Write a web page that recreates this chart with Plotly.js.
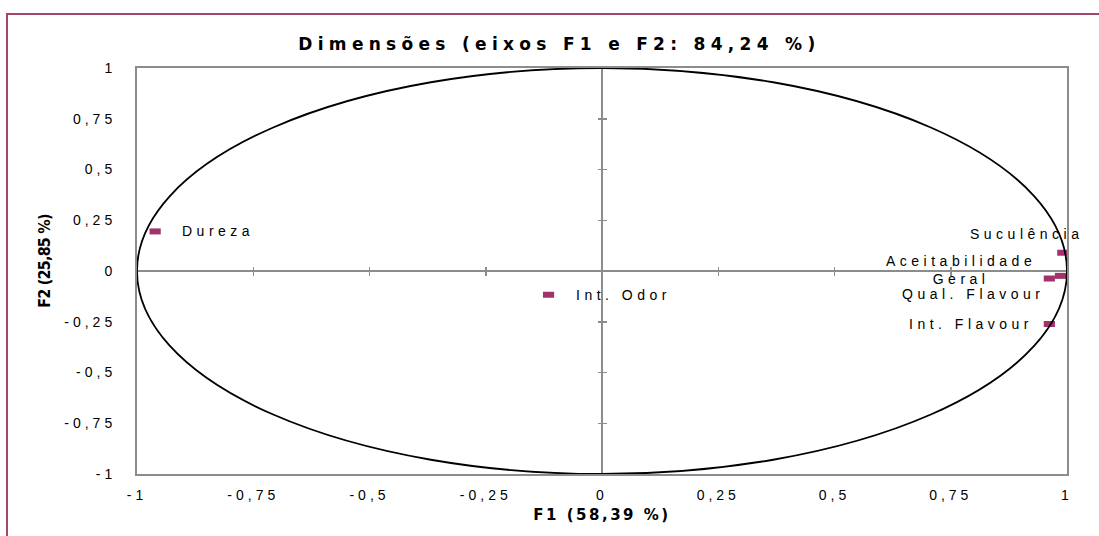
<!DOCTYPE html>
<html>
<head>
<meta charset="utf-8">
<script src="https://cdn.plot.ly/plotly-3.0.1.min.js"></script>
<style>
  html, body { margin: 0; padding: 0; background: #ffffff; }
  #chart { width: 1099px; height: 536px; }
  /* wide, airy lettering of the original worksheet chart */
  .gtitle { letter-spacing: 5.3px; }
  .g-xtitle text { letter-spacing: 2.5px; }
  .xtick text, .ytick text { letter-spacing: 4px; }
  .annotation-text { letter-spacing: 4.5px; }
  .annotation.ytitle .annotation-text { letter-spacing: -0.8px; }
</style>
</head>
<body>
<div id="chart"></div>
<script>
// Variable loadings on the first two factors (correlation circle)
const variables = ['Dureza', 'Int. Odor', 'Suculência', 'Aceitabilidade<br>Geral', 'Qual. Flavour', 'Int. Flavour'];
const f1 = [-0.961, -0.115, 0.991, 0.986, 0.962, 0.962];
const f2 = [0.195, -0.117, 0.090, -0.024, -0.037, -0.261];

// Axis ticks
const tickVals = [-1, -0.75, -0.5, -0.25, 0, 0.25, 0.5, 0.75, 1];
const tickText = ['-1', '-0,75', '-0,5', '-0,25', '0', '0,25', '0,5', '0,75', '1'];

// Label placement relative to each point (pixels)
const labelAnchor = ['left', 'left', 'right', 'center', 'center', 'right'];
const labelDx = [25, 25, 23, -99, -76, -14];
const labelDy = [0, 0, 19, 6, -15, 0];

const markColor = '#a1326c';
const axisGray = '#8c8c8c';
const labelFont = 'Liberation Sans, Arial, sans-serif';

const points = {
  type: 'scatter', mode: 'markers',
  x: f1, y: f2, text: variables,
  cliponaxis: false,
  hoverinfo: 'text',
  marker: { symbol: 'line-ew', size: 8, color: markColor,
            line: { color: markColor, width: 6 } },
  showlegend: false
};

// empty traces that bring the centre tick axes to life
const blank = (xa, ya) => ({ type: 'scatter', x: [], y: [], xaxis: xa, yaxis: ya,
                             showlegend: false, hoverinfo: 'skip' });

const centerAxis = (ticks, over) => ({
  overlaying: over, anchor: 'free', position: 0.5,
  range: [-1, 1], tickvals: tickVals, showticklabels: false,
  ticks: ticks, ticklen: 4, tickwidth: 1.5, tickcolor: axisGray,
  showgrid: false, zeroline: false, showline: false, fixedrange: true
});

const annotations = variables.map((v, i) => ({
  x: f1[i], y: f2[i], xref: 'x', yref: 'y',
  text: v, showarrow: false,
  xanchor: labelAnchor[i], yanchor: 'middle',
  xshift: labelDx[i], yshift: labelDy[i],
  font: { family: labelFont, size: 14, color: '#000000' }
}));

// vertical axis title, set a little above the axis centre
annotations.push({
  text: '<b>F2 (25,85 %)</b>', showarrow: false, textangle: -90,
  xref: 'paper', yref: 'paper', x: -93 / 930, y: 212.5 / 406,
  xanchor: 'center', yanchor: 'middle', name: 'ytitle',
  font: { family: 'DejaVu Sans Condensed, DejaVu Sans, sans-serif', size: 16, color: '#000000' }
});

const layout = {
  width: 1099, height: 536,
  margin: { l: 137, r: 32, t: 68, b: 62 },
  paper_bgcolor: '#ffffff', plot_bgcolor: '#ffffff',
  title: {
    text: '<b>Dimensões (eixos F1 e F2: 84,24 %)</b>',
    xref: 'container', x: 0.509, xanchor: 'center',
    yref: 'container', y: 1 - 44 / 536, yanchor: 'middle',
    font: { family: 'DejaVu Sans, sans-serif', size: 17, color: '#000000' }
  },
  xaxis: {
    range: [-1, 1], tickvals: tickVals, ticktext: tickText,
    ticks: '', ticklabelstandoff: 7,
    showgrid: false, zeroline: true, zerolinecolor: axisGray, zerolinewidth: 1.5,
    showline: true, mirror: true, linecolor: axisGray, linewidth: 2,
    tickfont: { family: labelFont, size: 14, color: '#000000' },
    title: { text: '<b>F1 (58,39 %)</b>', standoff: 8,
             font: { family: 'DejaVu Sans, sans-serif', size: 15, color: '#000000' } },
    fixedrange: true
  },
  yaxis: {
    range: [-1, 1], tickvals: tickVals, ticktext: tickText,
    ticks: '', ticklabelstandoff: 16,
    showgrid: false, zeroline: true, zerolinecolor: axisGray, zerolinewidth: 1.5,
    showline: true, mirror: true, linecolor: axisGray, linewidth: 2,
    tickfont: { family: labelFont, size: 14, color: '#000000' },
    fixedrange: true
  },
  xaxis2: centerAxis('outside', 'x'),
  xaxis3: centerAxis('inside', 'x'),
  yaxis2: centerAxis('outside', 'y'),
  yaxis3: centerAxis('inside', 'y'),
  shapes: [
    // unit correlation circle
    { type: 'circle', xref: 'x', yref: 'y', x0: -1, y0: -1, x1: 1, y1: 1,
      line: { color: '#000000', width: 1.8 }, layer: 'above' },
    // outer chart frame
    { type: 'rect', xref: 'paper', yref: 'paper',
      x0: -130 / 930, x1: 1.2, y0: -0.3, y1: 1 + 54 / 406,
      line: { color: '#a3466f', width: 2 }, layer: 'below' }
  ],
  annotations: annotations,
  hovermode: 'closest'
};

Plotly.newPlot('chart', [
  blank('x2', 'y'), blank('x3', 'y'), blank('x', 'y2'), blank('x', 'y3'),
  points
], layout, { displayModeBar: false, staticPlot: true }).then(gd => {
  // tag the vertical title so its own spacing rule applies
  const notes = gd.querySelectorAll('.annotation');
  const last = notes[notes.length - 1];
  if (last) last.classList.add('ytitle');
});
</script>
</body>
</html>
